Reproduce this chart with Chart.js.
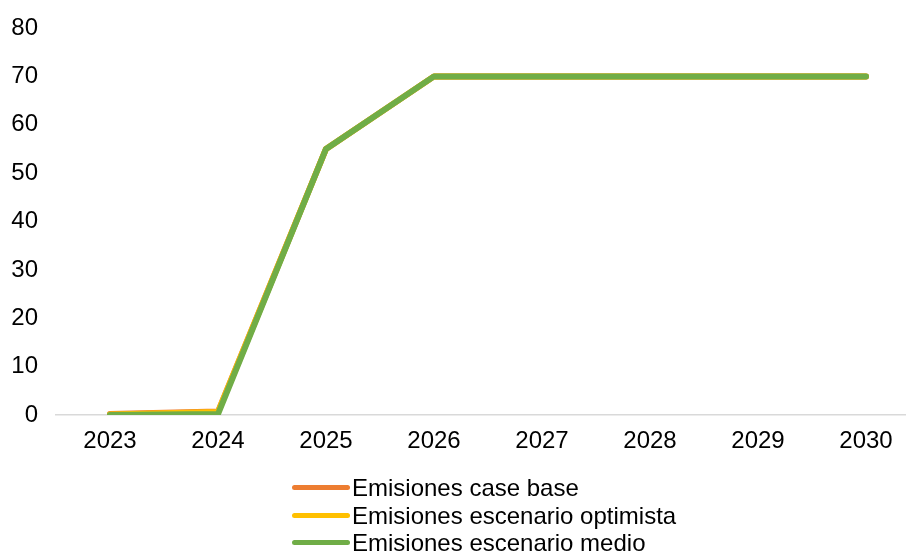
<!DOCTYPE html>
<html>
<head>
<meta charset="utf-8">
<script src="https://cdn.jsdelivr.net/npm/chart.js@4/dist/chart.umd.min.js"></script>
<style>
  html, body { margin: 0; padding: 0; background: #fff; overflow: hidden; }
  #wrap { position: relative; width: 920px; height: 552px; }
  #legend { position: absolute; left: 292px; top: 474px; font-family: "Liberation Sans", Arial, sans-serif; font-size: 24px; color: #000; }
  #legend .row { display: flex; align-items: center; height: 27.5px; line-height: 27.5px; }
  #legend .sw { width: 58px; height: 5px; border-radius: 3px; margin-right: 2px; }
</style>
</head>
<body>
<div id="wrap">
  <canvas id="c" width="920" height="552"></canvas>
  <div id="legend"></div>
</div>
<script>
// Años del horizonte de proyección
const years = ['2023', '2024', '2025', '2026', '2027', '2028', '2029', '2030'];

// Emisiones por escenario
const caseBase   = [0.2, 0.7, 55, 70, 70, 70, 70, 70];
const optimista  = [0.1, 0.6, 55, 70, 70, 70, 70, 70];
const medio      = [0, 0.2, 55, 70, 70, 70, 70, 70];

const seriesNames = ['Emisiones case base', 'Emisiones escenario optimista', 'Emisiones escenario medio'];
const seriesColors = ['#ED7D31', '#FFC000', '#70AD47'];
const seriesData = [caseBase, optimista, medio];

const FONT = { family: '"Liberation Sans", Arial, sans-serif', size: 24 };

// la última serie se dibuja encima de las demás
const datasets = seriesData.map((d, i) => ({
  label: seriesNames[i],
  data: d,
  order: seriesData.length - 1 - i,
  borderColor: seriesColors[i],
  backgroundColor: seriesColors[i],
  borderWidth: 6,
  pointRadius: 0,
  tension: 0,
  borderCapStyle: 'round',
  borderJoinStyle: 'round',
  fill: false
}));

new Chart(document.getElementById('c'), {
  type: 'line',
  data: { labels: years, datasets },
  options: {
    responsive: false,
    animation: false,
    layout: { padding: { left: 0, right: 0, top: 28, bottom: 0 } },
    plugins: { legend: { display: false }, tooltip: { enabled: false } },
    scales: {
      x: {
        offset: true,
        grid: { display: false, drawTicks: false },
        border: { display: true, color: '#D9D9D9', width: 1.5 },
        ticks: { color: '#000', font: FONT, padding: 12, maxRotation: 0 },
        afterFit: s => { s.height = 137; }
      },
      y: {
        min: 0, max: 80,
        grid: { display: false, drawTicks: false },
        border: { display: false },
        ticks: { color: '#000', font: FONT, stepSize: 10, padding: 18 },
        afterFit: s => { s.width = 56; s.paddingTop = 0; s.paddingBottom = 0; }
      }
    }
  }
});

// Leyenda vertical bajo el gráfico
const legend = document.getElementById('legend');
seriesNames.forEach((name, i) => {
  const row = document.createElement('div');
  row.className = 'row';
  const sw = document.createElement('span');
  sw.className = 'sw';
  sw.style.background = seriesColors[i];
  const txt = document.createElement('span');
  txt.textContent = name;
  row.appendChild(sw);
  row.appendChild(txt);
  legend.appendChild(row);
});
</script>
</body>
</html>
